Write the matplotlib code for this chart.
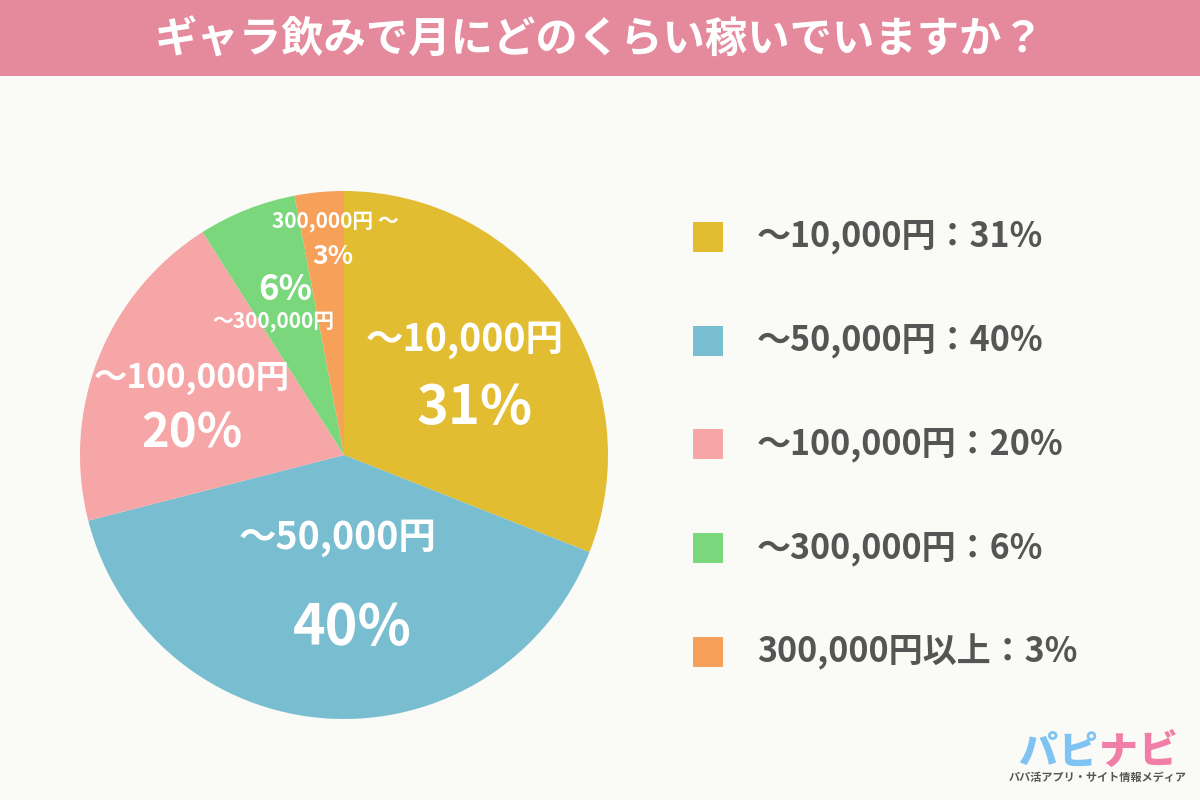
import matplotlib
matplotlib.use("Agg")
import matplotlib.pyplot as plt
from matplotlib.patches import Rectangle

plt.rcParams['font.family'] = ['Noto Sans CJK JP', 'DejaVu Sans']

title = "ギャラ飲みで月にどのくらい稼いでいますか？"
categories = ["〜10,000円", "〜50,000円", "〜100,000円", "〜300,000円", "300,000円以上"]
values = [31, 40, 20, 6, 3]
pie_labels = ["〜10,000円", "〜50,000円", "〜100,000円", "〜300,000円", "300,000円 〜"]
colors = ["#E3BD31", "#79BDD0", "#F6A6A6", "#7BD77C", "#F6A05A"]

bg = "#FAFAF7"
fig = plt.figure(figsize=(12, 8), dpi=100, facecolor=bg)

# Title band
band = fig.add_axes([0, 0.905, 1, 0.095])
band.set_axis_off()
band.add_patch(Rectangle((0, 0), 1, 1, color="#E48A9C", transform=band.transAxes))
band.text(0.5, 0.47, title, ha="center", va="center", color="white",
          fontsize=30.5, fontweight="bold")

# Pie
ax = fig.add_axes([344/1200 - 0.22, 1 - 455/800 - 0.33, 0.44, 0.66])
ax.set_aspect("equal")
ax.pie(values, colors=colors, startangle=90, counterclock=False, radius=1.0,
       wedgeprops=dict(linewidth=0))
ax.set_xlim(-1, 1)
ax.set_ylim(-1, 1)
ax.set_axis_off()

# label placement (name pos, name size, pct pos, pct size)
label_cfg = [
    ((0.458, 0.436), 27, (0.496, 0.178), 39),
    ((-0.023, -0.314), 27, (0.03, -0.655), 40),
    ((-0.576, 0.292), 24, (-0.576, 0.083), 34),
    ((-0.269, 0.504), 15, (-0.223, 0.625), 25),
    ((-0.034, 0.883), 15, (-0.042, 0.75), 19),
]
for lab, v, (npos, ns, ppos, ps) in zip(pie_labels, values, label_cfg):
    ax.text(npos[0], npos[1], lab, ha="center", va="center", color="white",
            fontsize=ns, fontweight="bold")
    ax.text(ppos[0], ppos[1], f"{v}%", ha="center", va="center", color="white",
            fontsize=ps, fontweight="bold")

# Legend
leg = fig.add_axes([0, 0, 1, 1], facecolor="none")
leg.set_xlim(0, 1200)
leg.set_ylim(800, 0)
leg.set_axis_off()
rows_y = [237, 341, 444, 548, 652]
for cat, v, c, y in zip(categories, values, colors, rows_y):
    leg.add_patch(Rectangle((693, y - 15), 30, 30, color=c, linewidth=0))
    leg.text(757, y, f"{cat}：{v}%", ha="left", va="center", color="#555555",
             fontsize=24.5, fontweight="bold")

# Logo
logo_chars = ["パ", "ピ", "ナ", "ビ"]
logo_cols = ["#7EC3F2", "#7EC3F2", "#F07EA6", "#F07EA6"]
for i, (ch, c) in enumerate(zip(logo_chars, logo_cols)):
    leg.text(1038 + i * 40, 752, ch, ha="center", va="center", color=c,
             fontsize=28, fontweight="heavy")
leg.text(1098, 777, "パパ活アプリ・サイト情報メディア", ha="center", va="center",
         color="#555555", fontsize=8, fontweight="bold")

fig.savefig("out.png", dpi=100, facecolor=bg)
